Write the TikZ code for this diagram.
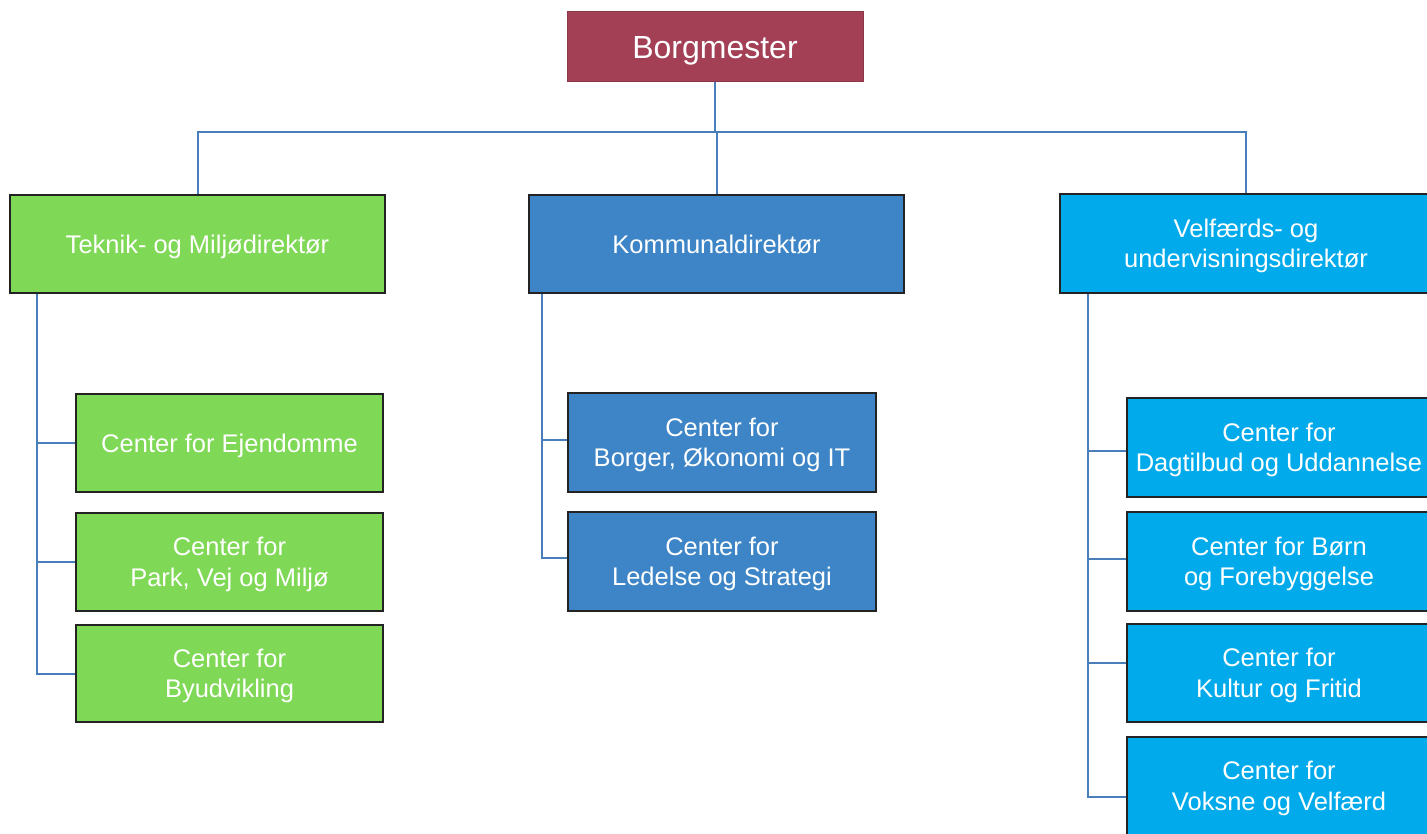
\documentclass[tikz,border=0pt]{standalone}
\usepackage{fontspec}
\setmainfont{Liberation Sans}
\definecolor{maroon}{RGB}{163,64,86}
\definecolor{gr}{RGB}{127,216,86}
\definecolor{bl}{RGB}{61,133,198}
\definecolor{cy}{RGB}{0,170,235}
\definecolor{boxline}{RGB}{35,35,35}
\definecolor{connblue}{RGB}{74,126,187}
\tikzset{
  box/.style={draw=boxline, line width=1.5pt, text=white, align=center, inner sep=0pt,
    font=\fontsize{25.5}{30.5}\selectfont, text depth=0pt},
  conn/.style={draw=connblue, line width=2pt},
}
\begin{document}
\begin{tikzpicture}[x=1pt,y=-1pt]
\useasboundingbox (0,0) rectangle (1427,834);
\clip (0,0) rectangle (1427,834);
\fill[white] (0,0) rectangle (1427,834);
% top
\node[box, fill=maroon, draw=maroon!85!black, line width=1pt, minimum width=296pt, minimum height=70pt,
  font=\fontsize{32}{38}\selectfont] (borg) at (715,47) {Borgmester};
% directors
\node[box, fill=gr, minimum width=375pt, minimum height=98pt] (tek) at (197.5,244) {Teknik- og Miljødirektør};
\node[box, fill=bl, minimum width=375pt, minimum height=98pt] (kom) at (716.5,244) {Kommunaldirektør};
\node[box, fill=cy, minimum width=372pt, minimum height=99pt] (vel) at (1246,243.5) {Velfærds- og\\undervisningsdirektør};
% green children
\node[box, fill=gr, minimum width=307pt, minimum height=98pt] (ejd) at (229.5,443) {Center for Ejendomme};
\node[box, fill=gr, minimum width=307pt, minimum height=98pt] (park) at (229.5,562) {Center for\\Park, Vej og Miljø};
\node[box, fill=gr, minimum width=307pt, minimum height=97pt] (byu) at (229.5,673.5) {Center for\\Byudvikling};
% blue children
\node[box, fill=bl, minimum width=308pt, minimum height=99pt] (borger) at (722,442.5) {Center for\\Borger, Økonomi og IT};
\node[box, fill=bl, minimum width=308pt, minimum height=99pt] (led) at (722,561.5) {Center for\\Ledelse og Strategi};
% cyan children
\node[box, fill=cy, minimum width=304pt, minimum height=99pt] (dag) at (1279,447.5) {Center for\\Dagtilbud og Uddannelse};
\node[box, fill=cy, minimum width=304pt, minimum height=99pt] (born) at (1279,561.5) {Center for Børn\\og Forebyggelse};
\node[box, fill=cy, minimum width=304pt, minimum height=98pt] (kul) at (1279,673) {Center for\\Kultur og Fritid};
\node[box, fill=cy, minimum width=304pt, minimum height=98pt] (vok) at (1279,786) {Center for\\Voksne og Velfærd};
% connectors
\coordinate (busY) at (0,132);
\coordinate (spL) at (37,0);
\coordinate (spM) at (542,0);
\coordinate (spR) at (1088,0);
\coordinate (eBorger) at ([yshift=3pt]borger.west);
\coordinate (eLed) at ([yshift=4pt]led.west);
\coordinate (eDag) at ([yshift=-3pt]dag.west);
\coordinate (eBorn) at ([yshift=3pt]born.west);
\coordinate (eKul) at ([yshift=10pt]kul.west);
\coordinate (eVok) at ([yshift=-11pt]vok.west);
\draw[conn] (borg.south) -- (borg.south |- busY);
\draw[conn] (tek.north) -- (tek.north |- busY) -- (vel.north |- busY) -- (vel.north);
\draw[conn] (kom.north) -- (kom.north |- busY);
\draw[conn] (tek.south -| spL) |- (byu.west);
\draw[conn] (spL |- ejd.west) -- (ejd.west);
\draw[conn] (spL |- park.west) -- (park.west);
\draw[conn] (kom.south -| spM) |- (eLed);
\draw[conn] (spM |- eBorger) -- (eBorger);
\draw[conn] (vel.south -| spR) |- (eVok);
\draw[conn] (spR |- eDag) -- (eDag);
\draw[conn] (spR |- eBorn) -- (eBorn);
\draw[conn] (spR |- eKul) -- (eKul);
\end{tikzpicture}
\end{document}
